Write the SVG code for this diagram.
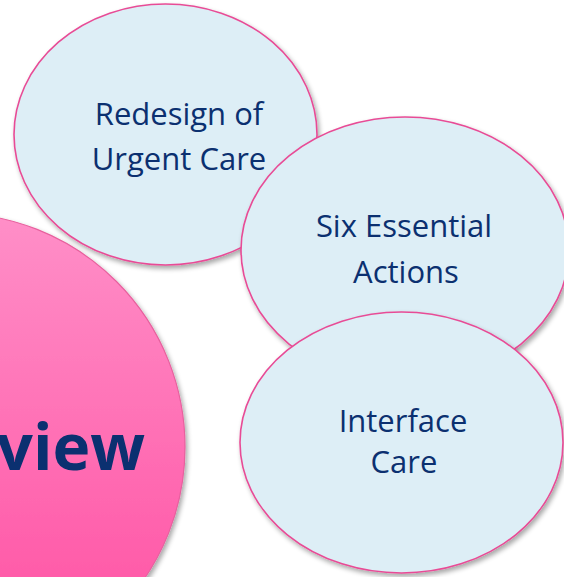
<svg xmlns="http://www.w3.org/2000/svg" width="564" height="577" viewBox="0 0 564 577">
  <style>
    .bubble { fill: #DDEEF6; stroke: #E84C96; stroke-width: 1.6; }
    .lbl { font-family: "Open Sans", "Noto Sans", sans-serif; font-size: 31px; fill: #0B3070; text-anchor: middle; }
    .big { font-family: "Open Sans", "Noto Sans", sans-serif; font-size: 64px; font-weight: bold; fill: #0B3070; text-anchor: end; }
  </style>
  <defs>
    <linearGradient id="pinkGrad" x1="0" y1="0" x2="0" y2="1">
      <stop offset="0" stop-color="#FF8FC8"/>
      <stop offset="1" stop-color="#FF4DA0"/>
    </linearGradient>
    <filter id="shadow" x="-10%" y="-10%" width="125%" height="125%">
      <feGaussianBlur in="SourceAlpha" stdDeviation="2.5"/>
      <feOffset dx="2" dy="3" result="b"/>
      <feComponentTransfer><feFuncA type="linear" slope="0.35"/></feComponentTransfer>
      <feMerge><feMergeNode/><feMergeNode in="SourceGraphic"/></feMerge>
    </filter>
  </defs>
  <rect width="564" height="577" fill="#FFFFFF"/>
  <g id="node-overview">
    <circle cx="-49" cy="447" r="234" fill="url(#pinkGrad)" stroke="#E8609E" stroke-width="1.2" filter="url(#shadow)"/>
    <text class="big" x="145" y="470">view</text>
  </g>
  <g id="node-redesign">
    <ellipse class="bubble" cx="165.5" cy="134.5" rx="151.5" ry="130.5" filter="url(#shadow)"/>
    <text class="lbl" x="179" y="125">Redesign of</text>
    <text class="lbl" x="179" y="170">Urgent Care</text>
  </g>
  <g id="node-six">
    <ellipse class="bubble" cx="405" cy="250" rx="164" ry="133" filter="url(#shadow)"/>
    <text class="lbl" x="404" y="237">Six Essential</text>
    <text class="lbl" x="406" y="283">Actions</text>
  </g>
  <g id="node-interface">
    <ellipse class="bubble" cx="401.5" cy="442.5" rx="161.5" ry="130.5" filter="url(#shadow)"/>
    <text class="lbl" x="403" y="432">Interface</text>
    <text class="lbl" x="404" y="473">Care</text>
  </g>
  <g id="connectors"/>
</svg>
